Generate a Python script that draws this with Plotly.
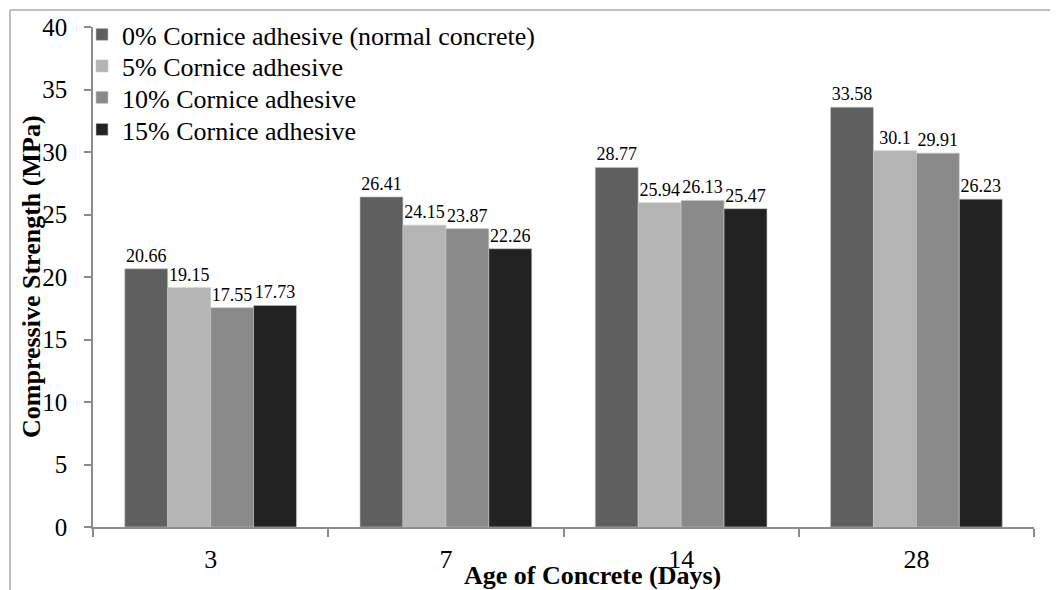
import plotly.graph_objects as go

ages = ["3", "7", "14", "28"]
series_names = [
    "0% Cornice adhesive (normal concrete)",
    "5% Cornice adhesive",
    "10% Cornice adhesive",
    "15% Cornice adhesive",
]
s0 = [20.66, 26.41, 28.77, 33.58]
s5 = [19.15, 24.15, 25.94, 30.1]
s10 = [17.55, 23.87, 26.13, 29.91]
s15 = [17.73, 22.26, 25.47, 26.23]
series_values = [s0, s5, s10, s15]
colors = ["#5f5f5f", "#b4b4b4", "#8a8a8a", "#222222"]

y_ticks = [0, 5, 10, 15, 20, 25, 30, 35, 40]

# The page body has an 8px margin, so the figure is sized to fit inside the window.
OFF = 8
W, H = 1058 - OFF, 590 - OFF
# plot area in screen pixels: x 93..1034, y 27..527
PX0, PX1, PY0, PY1 = 93, 1034, 27, 527
ML, MR = PX0 - OFF, W - (PX1 - OFF)
MT, MB = PY0 - OFF, H - (PY1 - OFF)
PW, PH = PX1 - PX0, PY1 - PY0

def px_x(p):
    return (p - PX0) / PW

def px_y(p):
    return (PY1 - p) / PH

def cx(p):
    return (p - OFF) / W

def cy(p):
    return 1 - (p - OFF) / H

FONT = "Liberation Serif, Times New Roman, serif"

fig = go.Figure()
legend_ids = ["legend", "legend2", "legend3", "legend4"]
row_centers = [34.5, 66.0, 97.5, 129.5]
for i, (name, vals, col) in enumerate(zip(series_names, series_values, colors)):
    fig.add_trace(go.Bar(
        x=ages, y=vals, name=name,
        marker=dict(color=col, line=dict(color="#c8c8c8", width=0.6)),
        text=[f"{v:g}" for v in vals],
        textposition="outside",
        textangle=0,
        constraintext="none",
        cliponaxis=False,
        textfont=dict(family=FONT, size=18, color="#000000"),
        legend=legend_ids[i],
    ))

legend_common = dict(
    font=dict(family=FONT, size=26, color="#000000"),
    bgcolor="rgba(0,0,0,0)",
    borderwidth=0,
    xref="container", yref="container",
    xanchor="left",
    yanchor="middle",
    x=cx(82),
    itemwidth=30,
)
layout_legends = {}
for lid, yc in zip(legend_ids, row_centers):
    layout_legends[lid] = dict(legend_common, y=cy(yc))

fig.update_layout(
    width=W, height=H,
    margin=dict(l=ML, r=MR, t=MT, b=MB, pad=0, autoexpand=False),
    paper_bgcolor="white",
    plot_bgcolor="white",
    barmode="group",
    bargap=0.27,
    bargroupgap=0,
    showlegend=True,
    font=dict(family=FONT, color="#000000"),
    xaxis=dict(
        type="category",
        categoryorder="array", categoryarray=ages,
        range=[-0.5, 3.5],
        showline=True, linecolor="#8c8c8c", linewidth=1.5,
        ticks="outside", tickson="boundaries", ticklen=8, tickwidth=1.5, tickcolor="#8c8c8c",
        tickfont=dict(family=FONT, size=26, color="#000000"),
        ticklabelstandoff=8,
        showgrid=False, zeroline=False,
    ),
    xaxis2=dict(
        overlaying="x", anchor="y", type="linear",
        range=[-0.5, 3.5], tickvals=[0, 1, 2, 3],
        showticklabels=False, ticks="outside", ticklen=8, tickwidth=1.5, tickcolor="#8c8c8c",
        showline=False, showgrid=False, zeroline=False,
    ),
    yaxis=dict(
        range=[0, 40], tickvals=y_ticks,
        showline=True, linecolor="#8c8c8c", linewidth=1.5,
        ticks="outside", ticklen=7, tickwidth=1.5, tickcolor="#8c8c8c",
        tickfont=dict(family=FONT, size=25, color="#000000"),
        ticklabelstandoff=12,
        showgrid=False, zeroline=False,
    ),
    **layout_legends,
)

# x axis title and y axis title as positioned text
fig.add_annotation(
    text="<b>Age of Concrete (Days)</b>", xref="paper", yref="paper",
    x=px_x(592), y=px_y(575), xanchor="center", yanchor="middle",
    showarrow=False, font=dict(family=FONT, size=26, color="#000000"),
)
fig.add_annotation(
    text="<b>Compressive Strength (MPa)</b>", xref="paper", yref="paper",
    x=px_x(31), y=px_y(277), xanchor="center", yanchor="middle", textangle=-90,
    showarrow=False, font=dict(family=FONT, size=26, color="#000000"),
)

# outer chart border (top and left visible edges)
fig.add_shape(type="line", xref="paper", yref="paper",
              x0=px_x(10), y0=px_y(10), x1=px_x(1062), y1=px_y(10),
              line=dict(color="#a8a8a8", width=1.5))
fig.add_shape(type="line", xref="paper", yref="paper",
              x0=px_x(10), y0=px_y(10), x1=px_x(10), y1=px_y(594),
              line=dict(color="#a8a8a8", width=1.5))

fig.write_html("out.html")
